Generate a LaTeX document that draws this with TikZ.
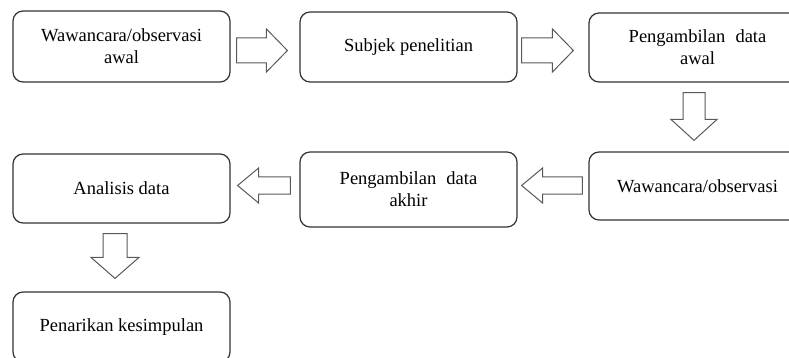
\documentclass[tikz,border=0pt]{standalone}
\usepackage{fontspec}
\setmainfont{Liberation Serif}
\usetikzlibrary{calc}

\tikzset{
  stage/.style={draw=black!80, line width=1.2pt, rounded corners=10pt,
    minimum width=217pt, minimum height=70pt, inner sep=0pt, align=center,
    font=\fontsize{18.5}{22}\selectfont},
  flowarrow/.style={draw=black!65, line width=1pt, fill=white, line join=miter}
}

% hollow block arrow from #1 to #2, shaft half width #3, head half width #4
\newcommand{\hollowarrow}[4]{%
  \draw[flowarrow] let \p1=($(#2)-(#1)$), \n1={atan2(\y1,\x1)}, \n2={veclen(\x1,\y1)} in
    [shift={(#1)}, rotate=\n1]
    (0pt,#3pt) -- ({\n2-21pt},#3pt) -- ({\n2-21pt},#4pt) -- (\n2,0pt)
    -- ({\n2-21pt},-#4pt) -- ({\n2-21pt},-#3pt) -- (0pt,-#3pt) -- cycle;}

\begin{document}
\begin{tikzpicture}[x=1pt,y=-1pt]
  \useasboundingbox (0,0) rectangle (789,358);
  \clip (0,0) rectangle (789,358);

  % first row
  \node[stage, minimum height=71pt] (b1) at (121.5,46.5) {Wawancara/observasi\\awal};
  \node[stage] (b2) at (408.5,47) {Subjek penelitian};
  \node[stage, minimum height=69pt] (b3) at (697.5,47.5) {Pengambilan\hspace{0.55em}data\\awal};

  % second row
  \node[stage, minimum height=68pt] (b4) at (697.5,186) {Wawancara/observasi};
  \node[stage, minimum height=75pt] (b5) at (408.5,189.5) {Pengambilan\hspace{0.55em}data\\akhir};
  \node[stage, minimum height=69pt] (b6) at (121.5,188.5) {Analisis data};

  % last step
  \node[stage] (b7) at (121.5,327) {Penarikan kesimpulan};

  % arrow ends
  \coordinate (s1) at ($(b1.east)+(6,4)$);
  \coordinate (e1) at ($(s1 -| b2.west)+(-12,0)$);
  \coordinate (s2) at ($(b2.east)+(4,3.5)$);
  \coordinate (e2) at ($(s2 -| b3.west)+(-15,0)$);
  \coordinate (s3) at ($(b3.south)+(-3.5,10)$);
  \coordinate (e3) at ($(s3 |- b4.north)+(0,-11)$);
  \coordinate (s4) at ($(b4.west)+(-6,-0.5)$);
  \coordinate (e4) at ($(s4 -| b5.east)+(4,0)$);
  \coordinate (s5) at ($(b5.west)+(-9,-4)$);
  \coordinate (e5) at ($(s5 -| b6.east)+(7,0)$);
  \coordinate (s6) at ($(b6.south)+(-6.5,10)$);
  \coordinate (e6) at ($(s6 |- b7.north)+(0,-13)$);

  \hollowarrow{s1}{e1}{12.5}{21.5}
  \hollowarrow{s2}{e2}{12.5}{21.5}
  \hollowarrow{s3}{e3}{11}{23}
  \hollowarrow{s4}{e4}{8.5}{17.5}
  \hollowarrow{s5}{e5}{8.5}{17.5}
  \hollowarrow{s6}{e6}{12}{24}
\end{tikzpicture}
\end{document}
